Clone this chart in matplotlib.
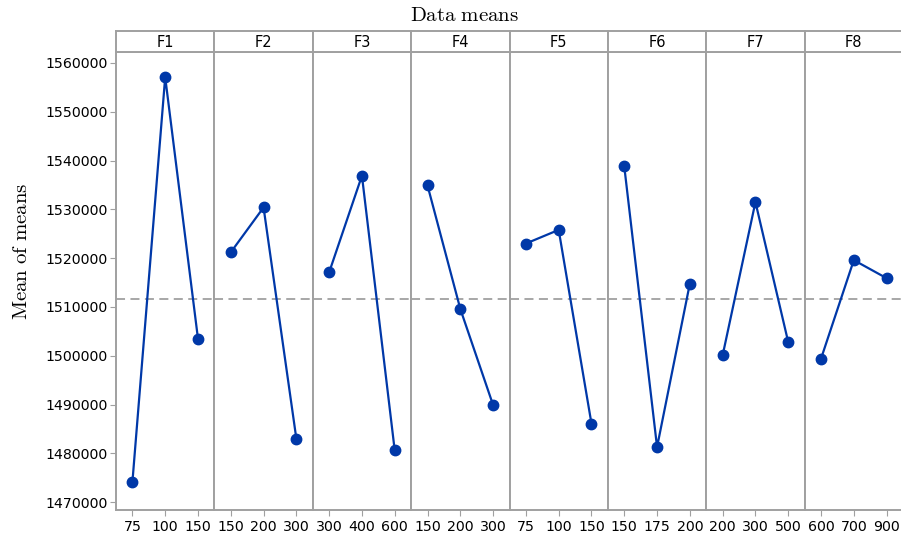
import matplotlib.pyplot as plt

plt.rcParams['mathtext.fontset'] = 'cm'

factors = ['F1', 'F2', 'F3', 'F4', 'F5', 'F6', 'F7', 'F8']
levels = [
    ['75', '100', '150'],
    ['150', '200', '300'],
    ['300', '400', '600'],
    ['150', '200', '300'],
    ['75', '100', '150'],
    ['150', '175', '200'],
    ['200', '300', '500'],
    ['600', '700', '900'],
]
means = [
    [1474100, 1557100, 1503500],
    [1521200, 1530400, 1483000],
    [1517100, 1536900, 1480600],
    [1534900, 1509600, 1489900],
    [1523000, 1525800, 1486100],
    [1538800, 1481300, 1514800],
    [1500100, 1531500, 1502800],
    [1499400, 1519600, 1515900],
]
grand_mean = 1511600
yticks = [1470000, 1480000, 1490000, 1500000, 1510000, 1520000, 1530000, 1540000, 1550000, 1560000]

W, H = 901, 538
fig = plt.figure(figsize=(W / 100, H / 100), dpi=100)

gray = '#a0a0a0'
blue = '#0038a8'
left, right = 116, 903
top_strip, top_plot, bottom = 31, 52, 510
pw = (right - left) / len(factors)

for i, f in enumerate(factors):
    x0 = left + i * pw
    ax = fig.add_axes([x0 / W, 1 - bottom / H, pw / W, (bottom - top_plot) / H])
    xs = [1, 2, 3]
    ax.plot(xs, means[i], color=blue, lw=1.6, marker='o', ms=7.5, zorder=3)
    ax.axhline(grand_mean, color=gray, lw=1.3, ls=(0, (5, 3)), zorder=1)
    ax.set_xlim(0.5, 3.5)
    ax.set_ylim(1468400, 1562250)
    ax.set_xticks(xs)
    ax.set_xticklabels(levels[i])
    ax.set_yticks(yticks)
    if i == 0:
        ax.set_yticklabels([str(v) for v in yticks])
        ax.tick_params(axis='y', length=4, color=gray, labelsize=10.2, pad=2)
    else:
        ax.tick_params(axis='y', left=False, labelleft=False)
    ax.tick_params(axis='x', length=4, color=gray, labelsize=10.2, pad=3)
    for s in ax.spines.values():
        s.set_color(gray)
        s.set_linewidth(1.4)

    sx = fig.add_axes([x0 / W, 1 - top_plot / H, pw / W, (top_plot - top_strip) / H])
    sx.set_xticks([])
    sx.set_yticks([])
    for s in sx.spines.values():
        s.set_color(gray)
        s.set_linewidth(1.4)
    sx.text(0.5, 0.45, f, ha='center', va='center', fontsize=10.5, transform=sx.transAxes)

fig.text(465 / W, 1 - 15 / H, r'$\mathrm{Data\ means}$', ha='center', va='center', fontsize=15)
fig.text(21 / W, 1 - 251 / H, r'$\mathrm{Mean\ of\ means}$', ha='center', va='center',
         rotation=90, fontsize=15)

fig.savefig('out.png', dpi=100)
